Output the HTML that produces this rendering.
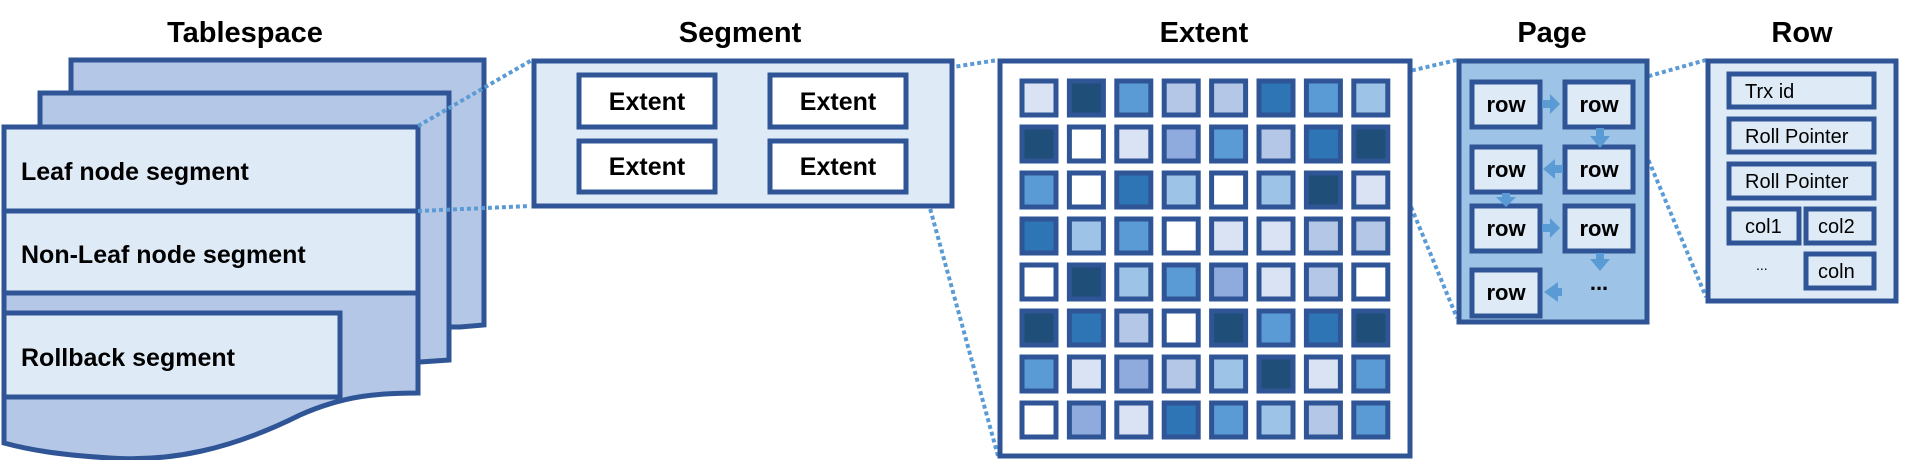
<!DOCTYPE html>
<html><head><meta charset="utf-8"><style>
html,body{margin:0;padding:0;background:#fff;}
svg{display:block;font-family:"Liberation Sans",sans-serif;}
.t{font-weight:bold;font-size:29px;fill:#000;text-anchor:middle;}
.b{font-weight:bold;font-size:25px;fill:#000;}
.n{font-size:20px;fill:#000;}
.dot{stroke:#5b9bd5;stroke-width:4;stroke-dasharray:4 3;fill:none;}
</style></head><body>
<svg width="1925" height="460" viewBox="0 0 1925 460">
<g stroke="#2f5597" stroke-width="5">
<text class="t" x="245" y="42" stroke="none">Tablespace</text>
<path d="M71,60 H484 V325 L460,327 L71,327 Z" fill="#b4c7e7"/>
<path d="M40,93 H449 V360 L420,362 L40,362 Z" fill="#b4c7e7"/>
<path d="M4,127 H418 V393 C380,393 345,395 300,415 C230,450 170,462 110,458 C60,455 30,450 4,443 Z" fill="#b4c7e7"/>
<rect x="4" y="127" width="414" height="84" fill="#deebf7"/>
<rect x="4" y="211" width="414" height="82" fill="#deebf7"/>
<rect x="4" y="313" width="336" height="84" fill="#deebf7"/>
<text class="b" x="21" y="180" stroke="none">Leaf node segment</text>
<text class="b" x="21" y="263" stroke="none">Non-Leaf node segment</text>
<text class="b" x="21" y="366" stroke="none">Rollback segment</text>
</g>
<g>
<line class="dot" x1="418" y1="126" x2="532" y2="60"/>
<line class="dot" x1="418" y1="211" x2="530" y2="206"/>
<line class="dot" x1="908" y1="74" x2="998" y2="60"/>
<line class="dot" x1="908" y1="128" x2="998" y2="456"/>
<line class="dot" x1="1371" y1="80" x2="1457" y2="60"/>
<line class="dot" x1="1371" y1="110" x2="1457" y2="318"/>
<line class="dot" x1="1635" y1="80" x2="1706" y2="60"/>
<line class="dot" x1="1635" y1="128" x2="1706" y2="297"/>
</g>
<g stroke="#2f5597" stroke-width="5">
<text class="t" x="740" y="42" stroke="none">Segment</text>
<rect x="534" y="61" width="418" height="145" fill="#deebf7"/>
<g fill="#fff">
<rect x="579" y="75" width="136" height="52"/>
<rect x="770" y="75" width="136" height="52"/>
<rect x="579" y="141" width="136" height="51"/>
<rect x="770" y="141" width="136" height="51"/>
</g>
<g class="b" stroke="none" text-anchor="middle">
<text x="647" y="110">Extent</text><text x="838" y="110">Extent</text>
<text x="647" y="175">Extent</text><text x="838" y="175">Extent</text>
</g>
</g>
<g>
<text class="t" x="1204" y="42">Extent</text>
<rect x="1000" y="61" width="410" height="395" fill="#fff" stroke="#2f5597" stroke-width="5"/>
<g id="grid"></g>
</g>
<g stroke="#2f5597" stroke-width="5">
<text class="t" x="1552" y="42" stroke="none">Page</text>
<rect x="1459" y="61" width="188" height="261" fill="#9dc3e6"/>
<g fill="#deebf7">
<rect x="1472" y="82" width="68" height="45"/>
<rect x="1565" y="82" width="68" height="45"/>
<rect x="1472" y="147" width="68" height="45"/>
<rect x="1565" y="147" width="68" height="45"/>
<rect x="1472" y="206" width="68" height="45"/>
<rect x="1565" y="206" width="68" height="45"/>
<rect x="1472" y="270" width="68" height="46"/>
</g>
<g class="b" stroke="none" text-anchor="middle" style="font-size:22px">
<text x="1506" y="112">row</text><text x="1599" y="112">row</text>
<text x="1506" y="177">row</text><text x="1599" y="177">row</text>
<text x="1506" y="236">row</text><text x="1599" y="236">row</text>
<text x="1506" y="300">row</text><text x="1599" y="290">...</text>
</g>
<g fill="#5b9bd5" stroke="none">
<path d="M1542,100 h8 v-6 l10,10 l-10,10 v-6 h-8z"/>
<path d="M1596,128 v8 h-6 l10,12 l10,-12 h-6 v-8z"/>
<path d="M1563,165 h-8 v-6 l-12,10 l12,10 v-6 h8z"/>
<path d="M1502,193 v4 h-6 l10,10 l10,-10 h-6 v-4z"/>
<path d="M1542,224 h8 v-6 l10,10 l-10,10 v-6 h-8z"/>
<path d="M1596,253 v6 h-6 l10,12 l10,-12 h-6 v-6z"/>
<path d="M1562,288 h-4 v-6 l-14,10 l14,10 v-6 h4z"/>
</g>
</g>
<g stroke="#2f5597" stroke-width="5">
<text class="t" x="1802" y="42" stroke="none">Row</text>
<rect x="1708" y="61" width="188" height="240" fill="#deebf7"/>
<g fill="#deebf7">
<rect x="1729" y="74" width="145" height="33"/>
<rect x="1729" y="119" width="145" height="33"/>
<rect x="1729" y="164" width="145" height="34"/>
<rect x="1729" y="209" width="70" height="34"/>
<rect x="1806" y="209" width="68" height="34"/>
<rect x="1806" y="254" width="68" height="34"/>
</g>
<g class="n" stroke="none">
<text x="1745" y="98">Trx id</text>
<text x="1745" y="143">Roll Pointer</text>
<text x="1745" y="188">Roll Pointer</text>
<text x="1745" y="233">col1</text>
<text x="1818" y="233">col2</text>
<text x="1818" y="278">coln</text>
<text x="1756" y="270" style="font-size:14px">...</text>
</g>
</g>
</svg>
<script>
const palette = {W:'#ffffff',L1:'#dae3f3',L2:'#b4c7e7',L3:'#9dc3e6',M:'#8faadc',B:'#5b9bd5',D:'#2e75b6',DD:'#1f4e79'};
const row1 = ['L1','DD','B','L2','L2','D','B','L3'];
const row2 = ['DD','W','L1','M','B','L2','D','DD'];
const row3 = ['B','W','D','L3','W','L3','DD','L1'];
const row4 = ['D','L3','B','W','L1','L1','L2','L2'];
const row5 = ['W','DD','L3','B','M','L1','L2','W'];
const row6 = ['DD','D','L2','W','DD','B','D','DD'];
const row7 = ['B','L1','M','L2','L3','DD','L1','B'];
const row8 = ['W','M','L1','D','B','L3','L2','B'];
const rows = [row1,row2,row3,row4,row5,row6,row7,row8];
const g = document.getElementById('grid');
const NS = 'http://www.w3.org/2000/svg';
const x0 = 1022, y0 = 81, dx = 47.4, dy = 46, w = 34, h = 34;
rows.forEach((r, i) => r.forEach((c, j) => {
  const el = document.createElementNS(NS, 'rect');
  el.setAttribute('x', x0 + j * dx);
  el.setAttribute('y', y0 + i * dy);
  el.setAttribute('width', w);
  el.setAttribute('height', h);
  el.setAttribute('fill', palette[c]);
  el.setAttribute('stroke', '#2f5597');
  el.setAttribute('stroke-width', '5');
  
  
  g.appendChild(el);
}));
</script>
</body></html>
